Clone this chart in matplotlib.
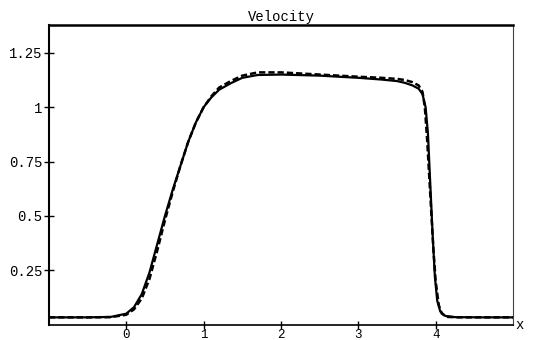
import matplotlib
matplotlib.use("Agg")
import matplotlib.pyplot as plt
import numpy as np

plt.rcParams['font.family'] = ['Liberation Mono', 'DejaVu Sans Mono']

# solid curve (x, velocity)
x_solid = [-1.0, -0.5, -0.2, 0.0, 0.1, 0.2, 0.3, 0.4, 0.5, 0.6, 0.7, 0.8, 0.9, 1.0,
           1.1, 1.2, 1.35, 1.5, 1.7, 2.0, 2.5, 3.0, 3.3, 3.5, 3.6, 3.7, 3.78, 3.83,
           3.87, 3.9, 3.93, 3.96, 3.99, 4.02, 4.06, 4.12, 4.25, 4.6, 5.0]
v_solid = [0.033, 0.033, 0.035, 0.05, 0.08, 0.14, 0.24, 0.37, 0.5, 0.62, 0.73, 0.84,
           0.93, 1.0, 1.045, 1.08, 1.11, 1.135, 1.148, 1.15, 1.145, 1.135, 1.127,
           1.12, 1.112, 1.1, 1.085, 1.06, 1.0, 0.88, 0.65, 0.42, 0.22, 0.11, 0.06,
           0.04, 0.034, 0.033, 0.033]

# dashed curve (x, velocity)
x_dash = [-1.0, -0.5, -0.2, 0.0, 0.1, 0.2, 0.3, 0.4, 0.5, 0.6, 0.7, 0.8, 0.9, 1.0,
          1.1, 1.2, 1.35, 1.5, 1.7, 2.0, 2.5, 3.0, 3.3, 3.5, 3.6, 3.7, 3.78, 3.83,
          3.86, 3.89, 3.93, 3.97, 4.0, 4.04, 4.08, 4.15, 4.3, 4.6, 5.0]
v_dash = [0.033, 0.033, 0.034, 0.045, 0.07, 0.12, 0.21, 0.34, 0.48, 0.61, 0.73, 0.84,
          0.93, 1.0, 1.05, 1.09, 1.12, 1.145, 1.16, 1.16, 1.15, 1.14, 1.135, 1.13,
          1.125, 1.115, 1.1, 1.07, 1.0, 0.85, 0.6, 0.35, 0.2, 0.09, 0.05, 0.035,
          0.033, 0.033, 0.033]

x_ticks = [0, 1, 2, 3, 4]
y_ticks = [0.25, 0.5, 0.75, 1.0, 1.25]
y_labels = ['0.25', '0.5', '0.75', '1', '1.25']

fig = plt.figure(figsize=(5.44, 3.4), dpi=100)
ax = fig.add_axes([0.090, 0.0455, 0.853, 0.881])

ax.plot(x_dash, v_dash, color='black', lw=1.8, ls=(0, (2.5, 1.2)))
ax.plot(x_solid, v_solid, color='black', lw=1.6)

ax.set_xlim(-1, 5)
ax.set_ylim(0, 1.378)
ax.set_xticks(x_ticks)
ax.set_xticklabels([str(t) for t in x_ticks])
ax.set_yticks(y_ticks)
ax.set_yticklabels(y_labels)
ax.tick_params(direction='inout', length=7, width=1, labelsize=10, pad=1, color='black')
ax.tick_params(axis='x', length=6, pad=0, labelsize=9)

ax.spines['left'].set_linewidth(1.5)
ax.spines['bottom'].set_linewidth(1.2)
ax.spines['top'].set_linewidth(1.8)
ax.spines['right'].set_linewidth(0.8)
ax.spines['right'].set_color('#444444')

ax.set_title('Velocity', fontsize=10, pad=3)
ax.text(1.006, 0.0, 'x', transform=ax.transAxes, ha='left', va='center', fontsize=10)

fig.savefig('out.png', dpi=100)
